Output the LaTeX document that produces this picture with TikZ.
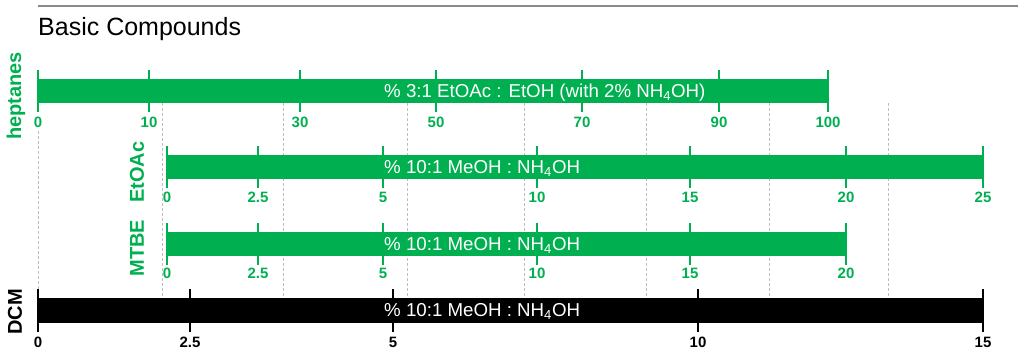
\documentclass[tikz,border=0pt]{standalone}
\usepackage{fontspec}
\setmainfont{Liberation Sans}
\definecolor{cgreen}{HTML}{00B050}
\definecolor{rulegray}{HTML}{8A8A8A}
\definecolor{guidegray}{HTML}{BDBDBD}
\begin{document}
\begin{tikzpicture}[x=1pt, y=-1pt,
  bar/.style={rectangle, fill=#1, draw=none, inner sep=0pt, anchor=west, minimum height=24pt},
  tickmark/.style={draw=#1, line width=2pt},
  ticklbl/.style={text=#1, font=\fontsize{15}{16}\selectfont\bfseries, inner sep=0pt},
  bartext/.style={text=white, font=\fontsize{18.7}{20}\selectfont, anchor=base west, inner sep=0pt},
  solvent/.style={rotate=90, text=#1, font=\fontsize{20}{22}\selectfont\bfseries, inner sep=0pt},
  guide/.style={draw=guidegray, line width=0.9pt, dash pattern=on 3pt off 2pt}]
\useasboundingbox (0,0) rectangle (1024,361);

\draw[draw=rulegray, line width=2pt] (38,6) -- (1018,6);
\node[anchor=base west, inner sep=0pt, font=\fontsize{25}{28}\selectfont] (title) at (38,36) {Basic Compounds};

\draw[guide] (38,131) -- (38,298);
\foreach \x in {162,283,407,524,646,769,888}
  \draw[guide] (\x,103) -- (\x,298);

\node[solvent=cgreen] (heptLbl) at (16,96) {heptanes};
\node[solvent=cgreen] (etoacLbl) at (137,172) {EtOAc};
\node[solvent=cgreen] (mtbeLbl) at (137,248) {MTBE};
\node[solvent=black] (dcmLbl) at (15,312) {DCM};

\node[bar=cgreen, minimum width=790pt] (hept) at (38,91) {};
\node[bar=cgreen, minimum width=817pt] (etoac) at (166,167) {};
\node[bar=cgreen, minimum width=680pt] (mtbe) at (166,244) {};
\node[bar=black, minimum width=945pt, minimum height=25pt] (dcm) at (38,310.5) {};

\foreach \x/\v [count=\i] in {38/0,149/10,300/30,436/50,582/70,719/90,828/100} {
  \draw[tickmark=cgreen] (\x,70) -- (\x,112);
  \node[ticklbl=cgreen] (h\i) at (\x,122) {\v};
}
\foreach \x/\v [count=\i] in {167/0,258/2.5,383/5,537/10,690/15,846/20,983/25} {
  \draw[tickmark=cgreen] (\x,146) -- (\x,188);
  \node[ticklbl=cgreen] (e\i) at (\x,197) {\v};
}
\foreach \x/\v [count=\i] in {167/0,258/2.5,383/5,537/10,690/15,846/20} {
  \draw[tickmark=cgreen] (\x,223) -- (\x,265);
  \node[ticklbl=cgreen] (m\i) at (\x,273) {\v};
}
\foreach \x/\v [count=\i] in {38/0,190/2.5,393/5,698/10,983/15} {
  \draw[tickmark=black] (\x,289) -- (\x,332);
  \node[ticklbl=black] (d\i) at (\x,342) {\v};
}

\node[bartext] (heptTxt) at (384,97) {\% 3:1 EtOAc : EtOH (with 2\% NH\textsubscript{4}OH)};
\node[bartext] (etoacTxt) at (384,173) {\% 10:1 MeOH : NH\textsubscript{4}OH};
\node[bartext] (mtbeTxt) at (384,250) {\% 10:1 MeOH : NH\textsubscript{4}OH};
\node[bartext] (dcmTxt) at (384,316.5) {\% 10:1 MeOH : NH\textsubscript{4}OH};
\end{tikzpicture}
\end{document}
